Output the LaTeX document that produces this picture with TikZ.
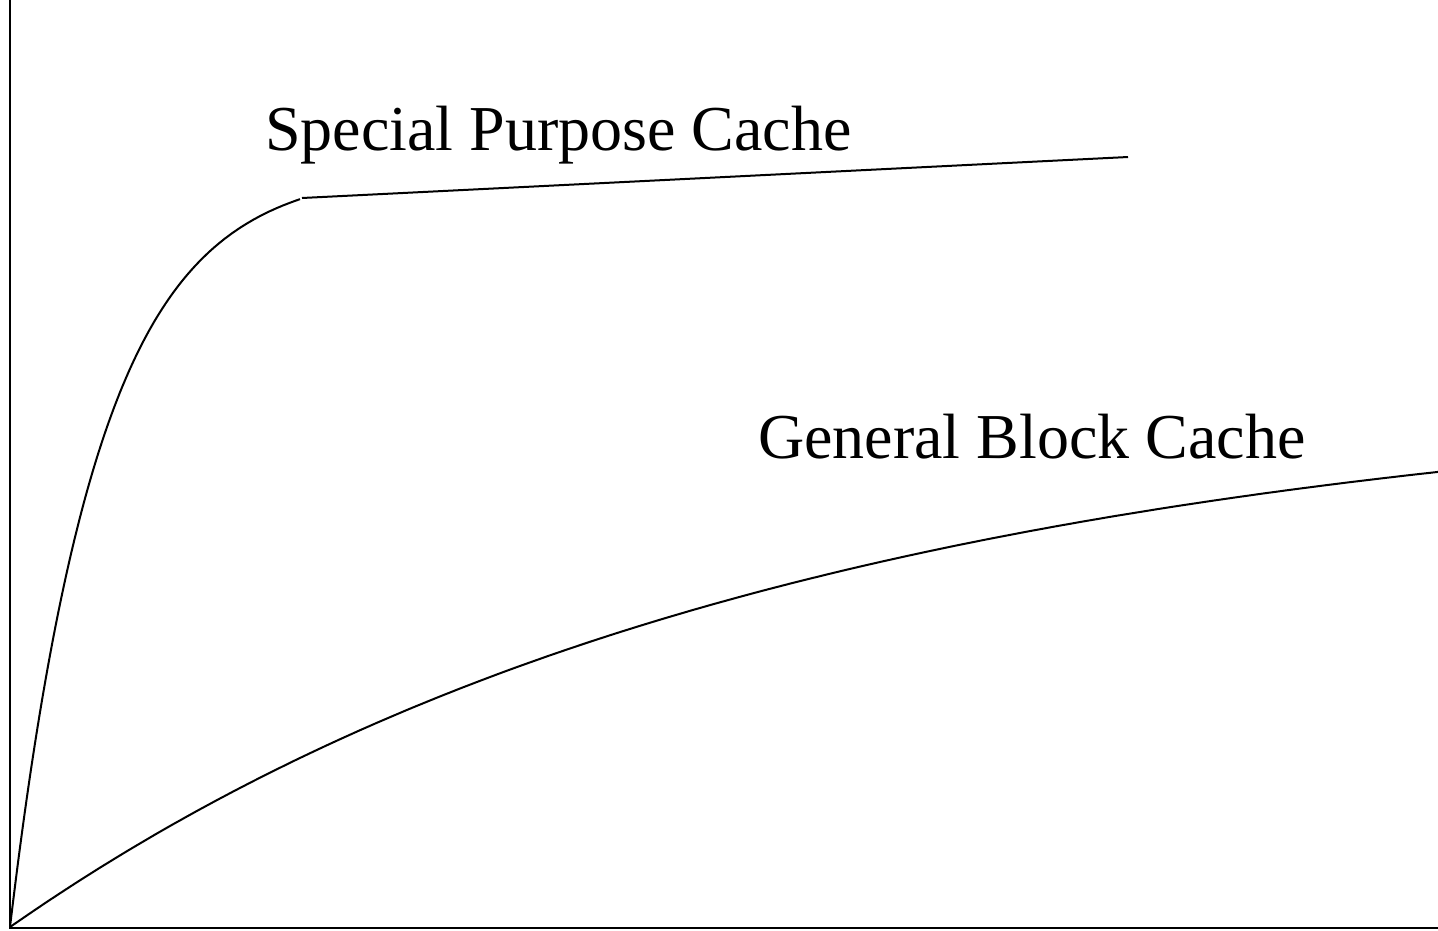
\documentclass[tikz,border=0pt]{standalone}
\usepackage{fontspec}
\setmainfont{Liberation Serif}
\begin{document}
\begin{tikzpicture}[x=1pt,y=-1pt,
  axis/.style={line width=2pt},
  curve/.style={line width=2pt},
  label/.style={anchor=base west,inner sep=0pt,font=\fontsize{64}{76}\selectfont}]
\useasboundingbox (0,0) rectangle (1438,930);
% axes
\coordinate (origin) at (10,928);
\coordinate (ytop) at (10,0);
\coordinate (xend) at (1438,928);
\draw[axis] (ytop) -- (origin) -- (xend);
% special purpose cache: fast rise, then a nearly flat line
\draw[curve] plot[domain=0:290,samples=120,smooth] ({10+\x},{927-758*(1-exp(-\x/90))});
\coordinate (sp1) at (302,198);
\coordinate (sp2) at (1128,157);
\draw[curve] (sp1) -- (sp2);
% general block cache: slow rise
\draw[curve] plot[domain=0:1428,samples=160,smooth] ({10+\x},{927-540*(1-exp(-\x/772))});
% labels
\node[label] (special) at (265,150) {Special Purpose Cache};
\node[label] (general) at (758,458) {General Block Cache};
\end{tikzpicture}
\end{document}
